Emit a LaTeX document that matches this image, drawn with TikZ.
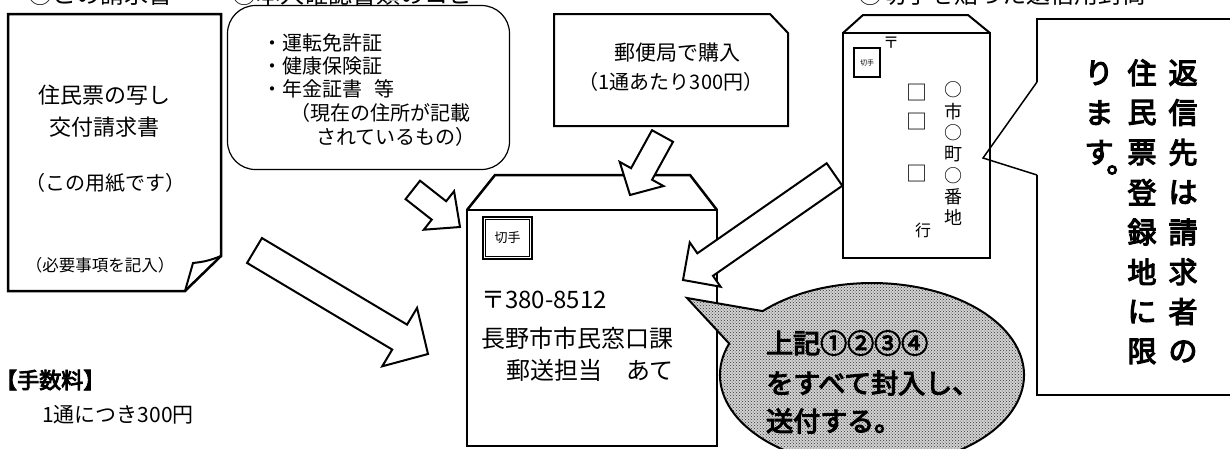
\documentclass[tikz,border=0pt]{standalone}
\usepackage{fontspec}
\setmainfont{Noto Sans CJK JP}[AutoFakeBold=4]
\usetikzlibrary{calc,patterns}

\tikzset{
  heavy/.style = {line width=2.5pt, line join=miter},
  arrowshape/.style = {draw, fill=white, line width=2pt, line join=miter},
  txt/.style = {inner sep=0pt, font=\fontsize{20}{24}\selectfont},
  bigtxt/.style = {inner sep=0pt, font=\fontsize{22}{26}\selectfont},
  smalltxt/.style = {inner sep=0pt, font=\fontsize{16.5}{20}\selectfont},
  addrtxt/.style = {inner sep=0pt, anchor=west, font=\fontsize{24}{28}\selectfont},
  boldtxt/.style = {inner sep=0pt, anchor=west, font=\bfseries\fontsize{27}{30}\selectfont},
  vchar/.style = {inner sep=0pt, font=\bfseries\fontsize{29}{30}\selectfont},
  headtxt/.style = {inner sep=0pt, anchor=base west, font=\fontsize{24}{26}\selectfont},
  idline/.style = {draw=black, line width=1.2pt}
}

% white block arrow: tail, tip, shaft half width, head half width, head length
\newcommand{\blockarrow}[5]{%
  \draw[arrowshape] let \p1 = ($(#2)-(#1)$), \n1 = {veclen(\x1,\y1)}, \n2 = {atan2(\y1,\x1)} in
    ($(#1)+(\n2+90:#3pt)$)
    -- ($(#1)+(\n2:{\n1-#5pt})+(\n2+90:#3pt)$)
    -- ($(#1)+(\n2:{\n1-#5pt})+(\n2+90:#4pt)$)
    -- (#2)
    -- ($(#1)+(\n2:{\n1-#5pt})+(\n2-90:#4pt)$)
    -- ($(#1)+(\n2:{\n1-#5pt})+(\n2-90:#3pt)$)
    -- ($(#1)+(\n2-90:#3pt)$) -- cycle;}

% open outline of a box with round corners: left, top, right, bottom, radius
\newcommand{\roundframe}[5]{%
  \draw[idline] ({#1+#5},#2) -- ({#3-#5},#2) arc[start angle=-90, end angle=0, radius=#5]
    -- (#3,{#4-#5}) arc[start angle=0, end angle=90, radius=#5]
    -- ({#1+#5},#4) arc[start angle=90, end angle=180, radius=#5]
    -- (#1,{#2+#5}) arc[start angle=180, end angle=270, radius=#5];}

\begin{document}
\begin{tikzpicture}[x=1pt, y=-1pt]
    \fill[white] (0,0) rectangle (1230,448);
    \useasboundingbox (0,0) rectangle (1230,448);
    \clip (0,0) rectangle (1230,448);

    % headings (cut off at the top)
    \node[headtxt] (head1) at (28,3) {①この請求書};
    \node[headtxt] (head2) at (232,3) {②本人確認書類のコピー};
    \node[headtxt] (head4) at (858,3) {④切手を貼った返信用封筒};

    % 1: the form
    \draw[heavy] (8,14) -- (221,14) -- (221,256) -- (185,291) -- (8,291) -- cycle;
    \draw[line width=2pt, line join=miter] (221,256) to[bend left=8] (193,263) -- (185,291);
    \node[bigtxt] (form1) at (104,95) {住民票の写し};
    \node[bigtxt] (form2) at (104,127) {交付請求書};
    \node[txt] (form3) at (105,183) {（この用紙です）};
    \node[smalltxt] (form4) at (100,265) {（必要事項を記入）};

    % 2: identity documents
    \roundframe{227.5}{5.5}{509.5}{169.5}{28}
    \node[txt, anchor=west] (id1) at (262,43) {・運転免許証};
    \node[txt, anchor=west] (id2) at (262,66) {・健康保険証};
    \node[txt, anchor=west] (id3) at (262,89) {・年金証書\hspace{0.6em}等};
    \node[txt, anchor=west] (id4) at (290,113) {（現在の住所が記載};
    \node[txt, anchor=west] (id5) at (316,137) {されているもの）};

    % 3: bought at the post office
    \draw[line width=2pt, line join=miter] (554,14) -- (770,14) -- (788,33) -- (788,126) -- (554,126) -- cycle;
    \node[txt, font=\fontsize{21}{24}\selectfont] (buy1) at (677,53) {郵便局で購入};
    \node[txt] (buy2) at (671,82) {（1通あたり300円）};

    % main envelope
    \draw[heavy] (467,210) -- (495,175) -- (690,175) -- (717,210);
    \draw[heavy] (467,210) rectangle (717,446);
    \draw[line width=2pt, fill=white, draw=black] (483,217) rectangle (532,259);
    \draw[black, line width=0.4pt] (485.5,219.5) rectangle (529.5,256.5);
    \node[inner sep=0pt, font=\fontsize{13}{14}\selectfont] (stamp) at (507.5,238) {切手};
    \node[addrtxt] (addr1) at (481,300) {〒380-8512};
    \node[addrtxt] (addr2) at (481,338) {長野市市民窓口課};
    \node[addrtxt] (addr3) at (506,370) {郵送担当\hspace{1em}あて};

    % 4: return envelope
    \draw[line width=2pt, line join=miter] (843,33) -- (863,15) -- (968,15) -- (990,33);
    \draw[line width=2pt] (843,33) rectangle (990,258);
    \draw[line width=1.5pt] (854,48) rectangle (880,77);
    \node[inner sep=0pt, font=\fontsize{7}{8}\selectfont] (rstamp) at (867,62.5) {切手};
    \node[inner sep=0pt, font=\fontsize{16}{16}\selectfont] (rpost) at (891,43) {〒};
    \foreach \yy in {93,122,174}
        \node[inner sep=0pt, font=\fontsize{21}{21}\selectfont] at (917,\yy) {□};
    \foreach \ch [count=\i] in {○,市,○,町,○,番,地}
        \node[inner sep=0pt, font=\fontsize{18}{18}\selectfont] at (953,{68.7+21.3*\i}) {\ch};
    \node[inner sep=0pt, font=\fontsize{16}{16}\selectfont] (rgo) at (923,230) {行};

    % callout with vertical text
    \coordinate (calltip) at (983,158);
    \draw[line width=2pt, line join=miter] (1240,19) -- (1037,19) -- (1037,82);
    \draw[line width=1.5pt, line join=miter] (1037,82) -- (calltip) -- (1037,175);
    \draw[line width=2pt, line join=miter] (1037,175) -- (1037,395) -- (1240,395);
    \foreach \ch [count=\i] in {返,信,先,は,請,求,者,の}
        \node[vchar] at (1183,{33+39.8*\i}) {\ch};
    \foreach \ch [count=\i] in {住,民,票,登,録,地,に,限}
        \node[vchar] at (1142,{33+39.8*\i}) {\ch};
    \foreach \ch [count=\i] in {り,ま,す}
        \node[vchar] at (1099,{33+39.8*\i}) {\ch};
    \node[vchar] (maru) at (1121,170) {。};

    % speech bubble
    \coordinate (bubtip) at (687,298);
    \draw[line width=2pt, preaction={fill=gray!35}, pattern=crosshatch dots, pattern color=black!80]
        (bubtip) -- ($(872,375)+(-160:152 and 92)$)
        arc[start angle=-160, end angle=-496, x radius=152, y radius=92] -- cycle;
    \node[boldtxt] (all1) at (766,343) {上記①②③④};
    \node[boldtxt] (all2) at (766,383) {をすべて封入し、};
    \node[boldtxt] (all3) at (766,421) {送付する。};

    % fee
    \node[inner sep=0pt, anchor=west, font=\bfseries\fontsize{22}{24}\selectfont] (fee1) at (-5,380) {【手数料】};
    \node[inner sep=0pt, anchor=west, font=\fontsize{21}{24}\selectfont] (fee2) at (42,415) {1通につき300円};

    % block arrows into the envelope
    \coordinate (formout) at (254.5,250.5);
    \coordinate (envin1) at (428,354);
    \coordinate (idout) at (412.8,189.9);
    \coordinate (envin2) at (460,227);
    \coordinate (buyout) at (662.5,136);
    \coordinate (envin3) at (630,195);
    \coordinate (retout) at (834.5,174.5);
    \coordinate (envin4) at (683,280);
    \blockarrow{formout}{envin1}{14.5}{34}{33}
    \blockarrow{idout}{envin2}{11.7}{24.5}{26.7}
    \blockarrow{buyout}{envin3}{12}{25}{24}
    \blockarrow{retout}{envin4}{13.7}{27}{27}
\end{tikzpicture}
\end{document}
